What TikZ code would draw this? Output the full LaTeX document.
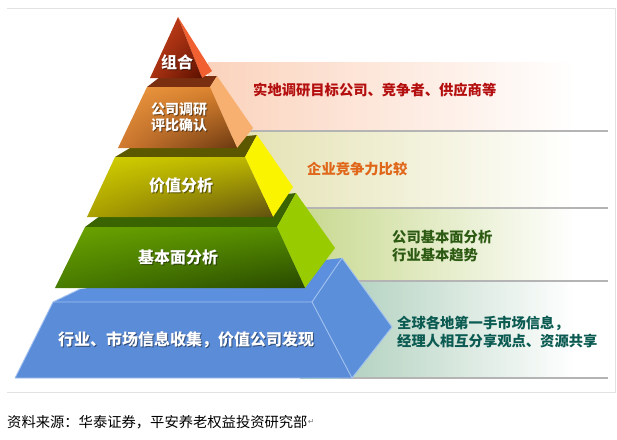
\documentclass[tikz,border=0pt]{standalone}
\usepackage{fontspec}
\usetikzlibrary{shadings}
\newfontfamily\cjk{Noto Sans CJK SC}
\newfontfamily\dejavu{DejaVu Sans}
\definecolor{framec}{HTML}{E2E2E2}
\definecolor{bandA}{HTML}{FBD3BD}
\definecolor{bandB}{HTML}{E4E2B2}
\definecolor{bandC}{HTML}{C3D585}
\definecolor{bandD}{HTML}{A3C8B3}
\definecolor{txtA}{HTML}{B40F0F}
\definecolor{txtB}{HTML}{E0661A}
\definecolor{txtC}{HTML}{2D5A12}
\definecolor{txtD}{HTML}{0B5B52}
\definecolor{blueF}{HTML}{5A8CD8}
\definecolor{blueT}{HTML}{5C8FDD}
\definecolor{blueR}{HTML}{5B8FDA}
\definecolor{blueE}{HTML}{A2C2F0}
\definecolor{lineC}{HTML}{B4B4B4}
\definecolor{gT}{RGB}{58,100,0}
\definecolor{gR}{RGB}{153,204,0}
\definecolor{gUL}{RGB}{108,164,0}
\definecolor{gUR}{RGB}{84,140,0}
\definecolor{gLL}{RGB}{72,124,0}
\definecolor{gLR}{RGB}{40,72,0}
\definecolor{yT}{RGB}{92,88,0}
\definecolor{yR}{RGB}{250,244,0}
\definecolor{yUL}{RGB}{210,208,0}
\definecolor{yUR}{RGB}{186,180,0}
\definecolor{yLL}{RGB}{170,160,0}
\definecolor{yLR}{RGB}{96,80,16}
\definecolor{oT}{RGB}{122,48,16}
\definecolor{oR}{RGB}{248,176,112}
\definecolor{oUL}{RGB}{236,152,64}
\definecolor{oUR}{RGB}{218,128,44}
\definecolor{oLL}{RGB}{210,122,48}
\definecolor{oLR}{RGB}{106,56,16}
\definecolor{rR}{RGB}{240,96,48}
\definecolor{rUL}{RGB}{204,70,30}
\definecolor{rUR}{RGB}{170,46,16}
\definecolor{rLL}{RGB}{170,50,18}
\definecolor{rLR}{RGB}{90,16,0}
\begin{document}
\begin{tikzpicture}[x=1pt,y=-1pt,
  lbl/.style={font=\cjk\bfseries\fontsize{16}{18}\selectfont, text=white, inner sep=0pt},
  lblshadow/.style={lbl, text=black, opacity=0.45},
  bandtxt/.style={font=\cjk\bfseries\fontsize{14.3}{18}\selectfont, inner sep=0pt, anchor=west, align=left},
  bandline/.style={draw=lineC, line width=1.4pt},
  frameline/.style={draw=framec, line width=1pt},
  blueedge/.style={draw=blueE, line width=0.9pt, line join=round}]
\useasboundingbox (0,0) rectangle (617,439);
\fill[white] (0,0) rectangle (617,439);
% frame
\draw[frameline] (7,8) -- (615,8) -- (615,392) -- (7,392);
% bands
\shade[left color=bandA, right color=white] (208,62) rectangle (575,131);
\shade[left color=bandB, right color=white] (240,131) rectangle (575,208);
\shade[left color=bandC, right color=white] (275,208) rectangle (575,281);
\shade[left color=bandD, right color=white] (300,281) rectangle (575,378);
\draw[bandline] (212,131) -- (608,131);
\draw[bandline] (250,208) -- (608,208);
\draw[bandline] (280,281) -- (608,281);
\draw[bandline] (340,378) -- (608,378);
% layer 5 blue
\fill[blueT] (53,302) -- (80,289) -- (342,258) -- (312,302) -- cycle;
\fill[blueR] (312,302) -- (342,258) -- (392,327) -- (352,378) -- cycle;
\fill[blueF] (53,302) -- (312,302) -- (352,378) -- (15,378) -- cycle;
\draw[blueedge] (53,302) -- (312,302) -- (342,258);
\draw[blueedge] (312,302) -- (352,378);
\draw[blueedge] (15,378) -- (352,378) -- (392,327) -- (342,258);
\draw[blueedge] (15,378) -- (53,302) -- (80,289);
% layer 4 green
\fill[gT] (85,227) -- (100,216) -- (296,193) -- (277,227) -- cycle;
\fill[gR] (277,227) -- (296,193) -- (335,248) -- (305,288) -- cycle;
\shade[upper left=gUL, upper right=gUR, lower left=gLL, lower right=gLR]
  (85,227) -- (277,227) -- (305,288) -- (55,288) -- cycle;
% layer 3 yellow
\fill[yT] (115,157) -- (130,148) -- (257,135) -- (245,157) -- cycle;
\fill[yR] (245,157) -- (257,135) -- (293,187) -- (273,217) -- cycle;
\shade[upper left=yUL, upper right=yUR, lower left=yLL, lower right=yLR]
  (115,157) -- (245,157) -- (273,217) -- (87,217) -- cycle;
% layer 2 orange
\fill[oT] (147,87) -- (160,77) -- (217,76) -- (210,87) -- cycle;
\fill[oR] (210,87) -- (217,76) -- (253,128) -- (237,148) -- cycle;
\shade[upper left=oUL, upper right=oUR, lower left=oLL, lower right=oLR]
  (147,87) -- (210,87) -- (237,148) -- (118,148) -- cycle;
% layer 1 red
\fill[rR] (178,17) -- (212,71) -- (202,78) -- cycle;
\shade[upper left=rUL, upper right=rUR, lower left=rLL, lower right=rLR]
  (178,17) -- (202,78) -- (150,78) -- cycle;
% pyramid labels
\node[lblshadow] (s1) at (178,63) {组合};
\node[lbl] (l1) at (177,62) {组合};
\node[lblshadow, font=\cjk\bfseries\fontsize{14}{16}\selectfont, align=center] (s2) at (180,118) {公司调研\\评比确认};
\node[lbl, font=\cjk\bfseries\fontsize{14}{16}\selectfont, align=center] (l2) at (179,117) {公司调研\\评比确认};
\node[lblshadow] (s3) at (182,186) {价值分析};
\node[lbl] (l3) at (181,185) {价值分析};
\node[lblshadow] (s4) at (179,258) {基本面分析};
\node[lbl] (l4) at (178,257) {基本面分析};
\node[lblshadow] (s5) at (187,341) {行业、市场信息收集，价值公司发现};
\node[lbl] (l5) at (186,340) {行业、市场信息收集，价值公司发现};
% band texts
\node[bandtxt, text=txtA] (t1) at (253,90) {实地调研目标公司、竞争者、供应商等};
\node[bandtxt, text=txtB] (t2) at (307,169) {企业竞争力比较};
\node[bandtxt, text=txtC] (t3) at (392,246) {公司基本面分析\\行业基本趋势};
\node[bandtxt, text=txtD] (t4) at (397,332) {全球各地第一手市场信息，\\经理人相互分享观点、资源共享};
% caption
\node[anchor=west, inner sep=0pt, font=\cjk\fontsize{14.3}{16}\selectfont] (cap) at (7,422) {资料来源：华泰证券，平安养老权益投资研究部};
\node[anchor=west, inner sep=0pt, font=\dejavu\fontsize{8}{9}\selectfont, text=gray] (ret) at (cap.east) {↵};
\end{tikzpicture}
\end{document}
